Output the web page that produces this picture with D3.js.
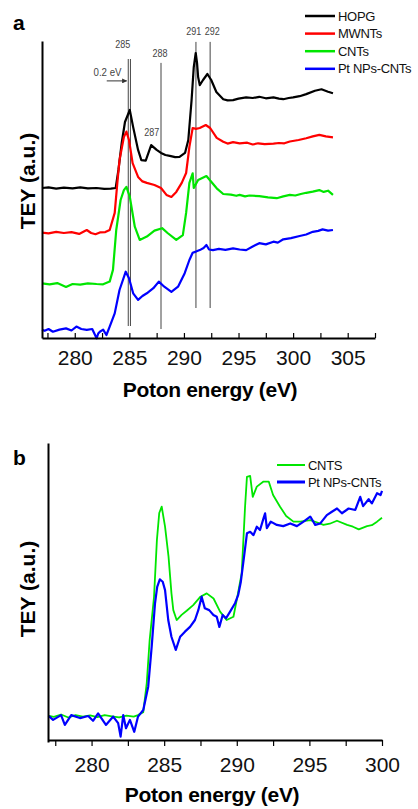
<!DOCTYPE html>
<html>
<head>
<meta charset="utf-8">
<script src="https://cdnjs.cloudflare.com/ajax/libs/d3/7.8.5/d3.min.js"></script>
<style>
  body { margin: 0; background: #fff; }
  .axis path, .axis line { stroke: #000; }
  .axis text { font-family: "Liberation Sans", Arial, sans-serif; font-size: 21px; fill: #111; }
  .title { font-family: "Liberation Sans", Arial, sans-serif; font-weight: bold; font-size: 21px; fill: #000; }
  .note { font-family: "Liberation Sans", Arial, sans-serif; font-size: 11px; fill: #444; }
  .legend { font-family: "Liberation Sans", Arial, sans-serif; font-size: 13px; fill: #111; letter-spacing: -0.3px; }
</style>
</head>
<body>
<script>
// panel a: NEXAFS C K-edge spectra, energy (eV) vs TEY (arbitrary units, stacked)
var hopgA = [[277.0,5.00],[277.6,5.02],[278.3,4.98],[279.0,5.01],[279.8,4.99],[280.5,5.02],[281.2,4.99],[282.0,5.00],[282.7,4.97],[283.3,4.98],[283.75,5.0],[284.0,5.6],[284.3,6.5],[284.6,7.2],[285.04,7.6],[285.35,7.03],[285.8,6.27],[286.1,5.93],[286.5,5.91],[287.0,6.43],[287.5,6.27],[287.9,6.17],[288.3,6.1],[288.7,6.07],[289.2,6.03],[289.6,6.04],[290.1,6.17],[290.4,6.6],[290.7,7.93],[290.9,9.03],[291.08,9.5],[291.2,9.17],[291.3,8.7],[291.45,8.43],[291.75,8.6],[292.15,8.8],[292.5,8.6],[292.97,8.2],[293.6,7.96],[294.0,7.92],[294.5,7.93],[295.0,7.98],[295.7,8.02],[296.3,8.0],[296.9,8.04],[297.5,7.99],[298.2,8.02],[298.7,7.98],[299.1,7.96],[299.6,8.0],[300.0,8.02],[300.6,8.06],[301.2,8.13],[302.0,8.24],[302.6,8.29],[303.2,8.21],[303.65,8.16]];
var mwntA = [[277.0,3.51],[277.6,3.49],[278.3,3.54],[279.0,3.5],[279.7,3.53],[280.4,3.47],[281.1,3.6],[281.5,3.5],[281.9,3.46],[282.3,3.52],[282.8,3.53],[283.2,3.6],[283.66,4.17],[283.9,5.17],[284.1,5.93],[284.5,6.7],[284.73,6.88],[284.97,6.6],[285.3,5.83],[285.8,5.37],[286.2,5.22],[286.6,5.17],[287.3,5.1],[287.9,5.0],[288.4,4.77],[288.85,4.7],[289.3,4.87],[289.8,5.17],[290.2,5.5],[290.5,6.37],[290.8,7.0],[291.1,6.97],[291.45,7.0],[292.0,7.1],[292.4,7.0],[293.0,6.67],[293.6,6.54],[294.0,6.48],[294.5,6.53],[295.1,6.49],[295.8,6.51],[296.3,6.45],[296.8,6.49],[297.4,6.46],[298.2,6.48],[298.7,6.5],[299.2,6.49],[299.7,6.55],[300.5,6.6],[301.2,6.66],[301.8,6.72],[302.4,6.77],[303.0,6.72],[303.65,6.69]];
var cntA = [[277.0,1.82],[277.7,1.79],[278.4,1.83],[279.2,1.7],[279.8,1.8],[280.5,1.78],[281.2,1.82],[282.0,1.8],[282.6,1.79],[283.2,1.88],[283.5,2.27],[283.8,3.6],[284.2,4.6],[284.5,4.93],[284.73,5.04],[285.04,4.71],[285.5,3.71],[285.95,3.27],[286.6,3.38],[287.3,3.58],[288.0,3.66],[288.5,3.5],[289.3,3.27],[289.9,3.43],[290.2,4.17],[290.5,5.17],[290.8,5.49],[290.9,5.0],[291.3,5.27],[292.06,5.4],[292.5,5.21],[293.0,4.99],[293.6,4.8],[294.3,4.78],[294.8,4.74],[295.1,4.77],[295.6,4.72],[296.0,4.75],[296.9,4.73],[297.7,4.69],[298.5,4.66],[299.1,4.72],[299.7,4.77],[300.2,4.75],[300.7,4.8],[301.2,4.84],[301.8,4.88],[302.4,4.93],[302.8,4.87],[303.2,4.91],[303.65,4.77]];
var ptA = [[277.0,0.27],[277.25,0.24],[277.6,0.3],[278.0,0.21],[278.6,0.28],[279.2,0.32],[279.7,0.25],[280.15,0.38],[280.6,0.3],[281.1,0.27],[281.6,0.3],[282.0,-0.01],[282.15,0.15],[282.3,0.21],[282.6,0.28],[282.9,0.1],[283.2,0.38],[283.66,0.82],[284.1,1.6],[284.67,2.21],[284.97,1.99],[285.35,1.49],[285.8,1.27],[286.2,1.4],[286.6,1.49],[287.2,1.66],[287.7,1.88],[288.2,1.71],[288.85,1.54],[289.46,1.71],[290.07,2.16],[290.5,2.6],[290.8,2.84],[291.1,2.88],[291.45,2.93],[291.8,3.0],[292.06,3.1],[292.3,2.95],[292.66,2.93],[293.2,2.97],[293.8,2.94],[294.5,2.99],[295.1,2.95],[295.7,2.93],[296.3,3.05],[296.9,3.16],[297.5,3.12],[298.2,3.21],[298.6,3.18],[299.1,3.29],[299.8,3.33],[300.6,3.4],[301.2,3.45],[301.8,3.54],[302.3,3.57],[302.7,3.62],[303.2,3.58],[303.65,3.6]];

var namesA = ["HOPG", "MWNTs", "CNTs", "Pt NPs-CNTs"];
var colorsA = ["#000000", "#ff0000", "#00e600", "#0000ff"];

// reference lines (eV) and their extent in a.u.
var refEv = [284.9, 285.1, 287.9, 291.1, 292.4];
var refSpan = [[0.4, 9.3], [0.4, 9.3], [0.3, 9.17], [1.0, 9.87], [1.0, 9.87]];
var noteText = ["285", "288", "291", "292", "287", "0.2 eV"];
var notePos = [[284.4, 9.67], [287.8, 9.37], [290.9, 10.1], [292.6, 10.1], [287.05, 6.73], [283.0, 8.73]];

// panel b
var cntB = [[277.0,0.88],[277.4,0.84],[277.9,0.92],[278.4,0.82],[278.9,0.9],[279.4,0.85],[279.9,0.89],[280.4,0.83],[280.9,0.9],[281.4,0.86],[281.9,0.82],[282.4,0.88],[282.9,0.85],[283.2,0.9],[283.56,1.0],[283.8,1.97],[284.0,3.41],[284.3,4.85],[284.5,6.76],[284.66,7.66],[284.83,7.87],[285.06,7.2],[285.3,6.2],[285.5,4.98],[285.63,4.41],[285.86,4.08],[286.2,4.25],[286.55,4.39],[287.0,4.58],[287.5,4.86],[287.93,4.97],[288.4,4.8],[288.85,4.36],[289.3,4.08],[289.77,4.19],[290.04,4.86],[290.34,5.65],[290.57,7.87],[290.7,8.87],[290.92,8.9],[291.1,8.2],[291.38,8.54],[291.84,8.71],[292.2,8.71],[292.5,8.26],[292.98,7.87],[293.4,7.56],[293.9,7.37],[294.37,7.37],[295.06,7.42],[295.5,7.35],[295.97,7.26],[296.4,7.3],[296.9,7.4],[297.6,7.26],[298.0,7.2],[298.4,7.11],[298.97,7.22],[299.3,7.25],[299.66,7.37],[300.0,7.5]];
var ptB = [[277.0,0.85],[277.1,0.85],[277.35,0.74],[277.9,0.9],[278.16,0.57],[278.6,0.9],[279.2,0.8],[279.77,0.87],[280.1,0.71],[280.45,0.96],[280.99,0.57],[281.49,0.85],[281.83,0.63],[282.0,0.18],[282.18,0.9],[282.37,0.46],[282.64,0.74],[282.94,0.34],[283.2,0.85],[283.56,1.07],[283.9,1.85],[284.14,3.19],[284.37,4.64],[284.52,5.19],[284.7,5.44],[284.9,5.36],[285.06,5.08],[285.28,4.08],[285.5,3.52],[285.8,3.08],[286.1,3.52],[286.43,3.69],[286.78,3.85],[287.12,4.08],[287.35,4.41],[287.58,4.86],[287.8,4.47],[288.1,4.41],[288.39,4.25],[288.62,4.19],[288.8,3.85],[289.03,4.25],[289.26,4.14],[289.54,4.36],[289.88,4.64],[290.1,4.92],[290.28,5.36],[290.5,6.2],[290.7,6.98],[290.92,7.03],[291.15,6.92],[291.38,7.2],[291.6,7.09],[291.84,7.48],[291.95,7.65],[292.07,7.15],[292.34,7.37],[292.76,7.26],[293.2,7.22],[293.68,7.31],[294.14,7.22],[294.6,7.37],[295.06,7.54],[295.4,7.26],[295.75,7.31],[296.2,7.59],[296.55,7.7],[296.9,7.81],[297.24,7.65],[297.7,7.81],[298.16,7.76],[298.5,8.2],[298.7,7.89],[299.08,8.12],[299.3,7.98],[299.66,8.32],[299.9,8.26],[300.0,8.4]];

var namesB = ["CNTS", "Pt NPs-CNTs"];
var colorsB = ["#00e600", "#0000ff"];

var tickFmt = function(d) { return d % 5 === 0 ? d : ""; };

var svg = d3.select("body").append("svg")
    .attr("width", 418)
    .attr("height", 809);

// ---------- panel a ----------
var xA = d3.scaleLinear().domain([277, 307.5]).range([42, 375]);
var yA = d3.scaleLinear().domain([0, 9.9]).range([338, 41]);

var lineA = d3.line().x(d => xA(d[0])).y(d => yA(d[1]));

svg.append("g").selectAll("line")
   .data(refEv).enter()
   .append("line")
   .attr("x1", d => xA(d)).attr("x2", d => xA(d))
   .attr("y1", (d, i) => yA(refSpan[i][0]))
   .attr("y2", (d, i) => yA(refSpan[i][1]))
   .attr("stroke", "#444").attr("stroke-width", 1);

svg.append("g").selectAll("path")
   .data([hopgA, mwntA, cntA, ptA]).enter()
   .append("path")
   .attr("d", lineA)
   .attr("fill", "none")
   .attr("stroke", (d, i) => colorsA[i])
   .attr("stroke-width", 2.2)
   .attr("stroke-linejoin", "round");

var xgA = svg.append("g").attr("class", "axis")
   .attr("transform", "translate(0,338)")
   .call(d3.axisBottom(xA).tickValues(d3.range(277.5, 307.6, 2.5)).tickFormat(tickFmt)
         .tickSizeInner(-5).tickSizeOuter(0).tickPadding(12));
xgA.select(".domain").attr("stroke-width", 2);
xgA.selectAll(".tick line").attr("stroke-width", 1.2);

var ygA = svg.append("g").attr("class", "axis")
   .attr("transform", "translate(42,0)")
   .call(d3.axisLeft(yA).tickValues([]).tickSizeOuter(0));
ygA.select(".domain").attr("stroke-width", 2);

// condensed peak labels (squeezed to the narrow look of the original)
svg.append("g").selectAll("text")
   .data(noteText).enter()
   .append("text")
   .attr("class", "note")
   .attr("text-anchor", "middle")
   .attr("x", (d, i) => xA(notePos[i][0]))
   .attr("y", (d, i) => yA(notePos[i][1]))
   .attr("textLength", d => d.length > 3 ? 28 : 15)
   .attr("lengthAdjust", "spacingAndGlyphs")
   .text(d => d);

// 0.2 eV arrow
svg.append("defs").append("marker")
   .attr("id", "arr").attr("viewBox", "0 0 10 10")
   .attr("refX", 9).attr("refY", 5)
   .attr("markerWidth", 5).attr("markerHeight", 5)
   .attr("orient", "auto")
   .append("path").attr("d", "M0,0L10,5L0,10z").attr("fill", "#333");
svg.append("line")
   .attr("x1", xA(282.93)).attr("x2", xA(284.75))
   .attr("y1", yA(8.57)).attr("y2", yA(8.57))
   .attr("stroke", "#333").attr("stroke-width", 1)
   .attr("marker-end", "url(#arr)");

var legA = svg.append("g").selectAll("g")
   .data(namesA).enter()
   .append("g")
   .attr("transform", (d, i) => "translate(305," + (16 + i * 17.6) + ")");
legA.append("line").attr("x1", 0).attr("x2", 30)
   .attr("stroke", (d, i) => colorsA[i]).attr("stroke-width", 2.5);
legA.append("text").attr("class", "legend")
   .attr("x", 33).attr("dy", "0.35em").text(d => d);

svg.append("text").attr("class", "title")
   .attr("x", 13).attr("y", 30)
   .attr("font-size", 27)
   .text("a");

svg.append("text").attr("class", "title")
   .attr("x", 210).attr("y", 397)
   .attr("text-anchor", "middle")
   .attr("letter-spacing", "-0.3px")
   .text("Poton energy (eV)");

svg.append("text").attr("class", "title")
   .attr("transform", "translate(35,181) rotate(-90)")
   .attr("text-anchor", "middle")
   .attr("font-size", 22)
   .text("TEY (a.u.)");

// ---------- panel b ----------
var xB = d3.scaleLinear().domain([277, 300]).range([48, 382]);
var yB = d3.scaleLinear().domain([0, 10]).range([742, 443]);

var lineB = d3.line().x(d => xB(d[0])).y(d => yB(d[1]));

svg.append("g").selectAll("path")
   .data([cntB, ptB]).enter()
   .append("path")
   .attr("d", lineB)
   .attr("fill", "none")
   .attr("stroke", (d, i) => colorsB[i])
   .attr("stroke-width", (d, i) => i === 0 ? 1.8 : 2.2)
   .attr("stroke-linejoin", "round");

var xgB = svg.append("g").attr("class", "axis")
   .attr("transform", "translate(0,740)")
   .call(d3.axisBottom(xB).tickValues(d3.range(277.5, 300.1, 2.5)).tickFormat(tickFmt)
         .tickSizeInner(6).tickSizeOuter(0).tickPadding(11));
xgB.select(".domain").attr("stroke-width", 2);
xgB.selectAll(".tick line").attr("stroke-width", 1.2);

var ygB = svg.append("g").attr("class", "axis")
   .attr("transform", "translate(48,0)")
   .call(d3.axisLeft(yB).tickValues([]).tickSizeOuter(0));
ygB.select(".domain").attr("stroke-width", 2);

var legB = svg.append("g").selectAll("g")
   .data(namesB).enter()
   .append("g")
   .attr("transform", (d, i) => "translate(277," + (465 + i * 17) + ")");
legB.append("line").attr("x1", 0).attr("x2", 28)
   .attr("stroke", (d, i) => colorsB[i]).attr("stroke-width", (d, i) => i === 0 ? 2 : 3);
legB.append("text").attr("class", "legend")
   .attr("x", 31).attr("dy", "0.35em").text(d => d);

svg.append("text").attr("class", "title")
   .attr("x", 13).attr("y", 465)
   .attr("font-size", 28)
   .text("b");

svg.append("text").attr("class", "title")
   .attr("x", 212).attr("y", 802)
   .attr("text-anchor", "middle")
   .attr("letter-spacing", "-0.3px")
   .text("Poton energy (eV)");

svg.append("text").attr("class", "title")
   .attr("transform", "translate(35,589) rotate(-90)")
   .attr("text-anchor", "middle")
   .attr("font-size", 22)
   .text("TEY (a.u.)");
</script>
</body>
</html>
